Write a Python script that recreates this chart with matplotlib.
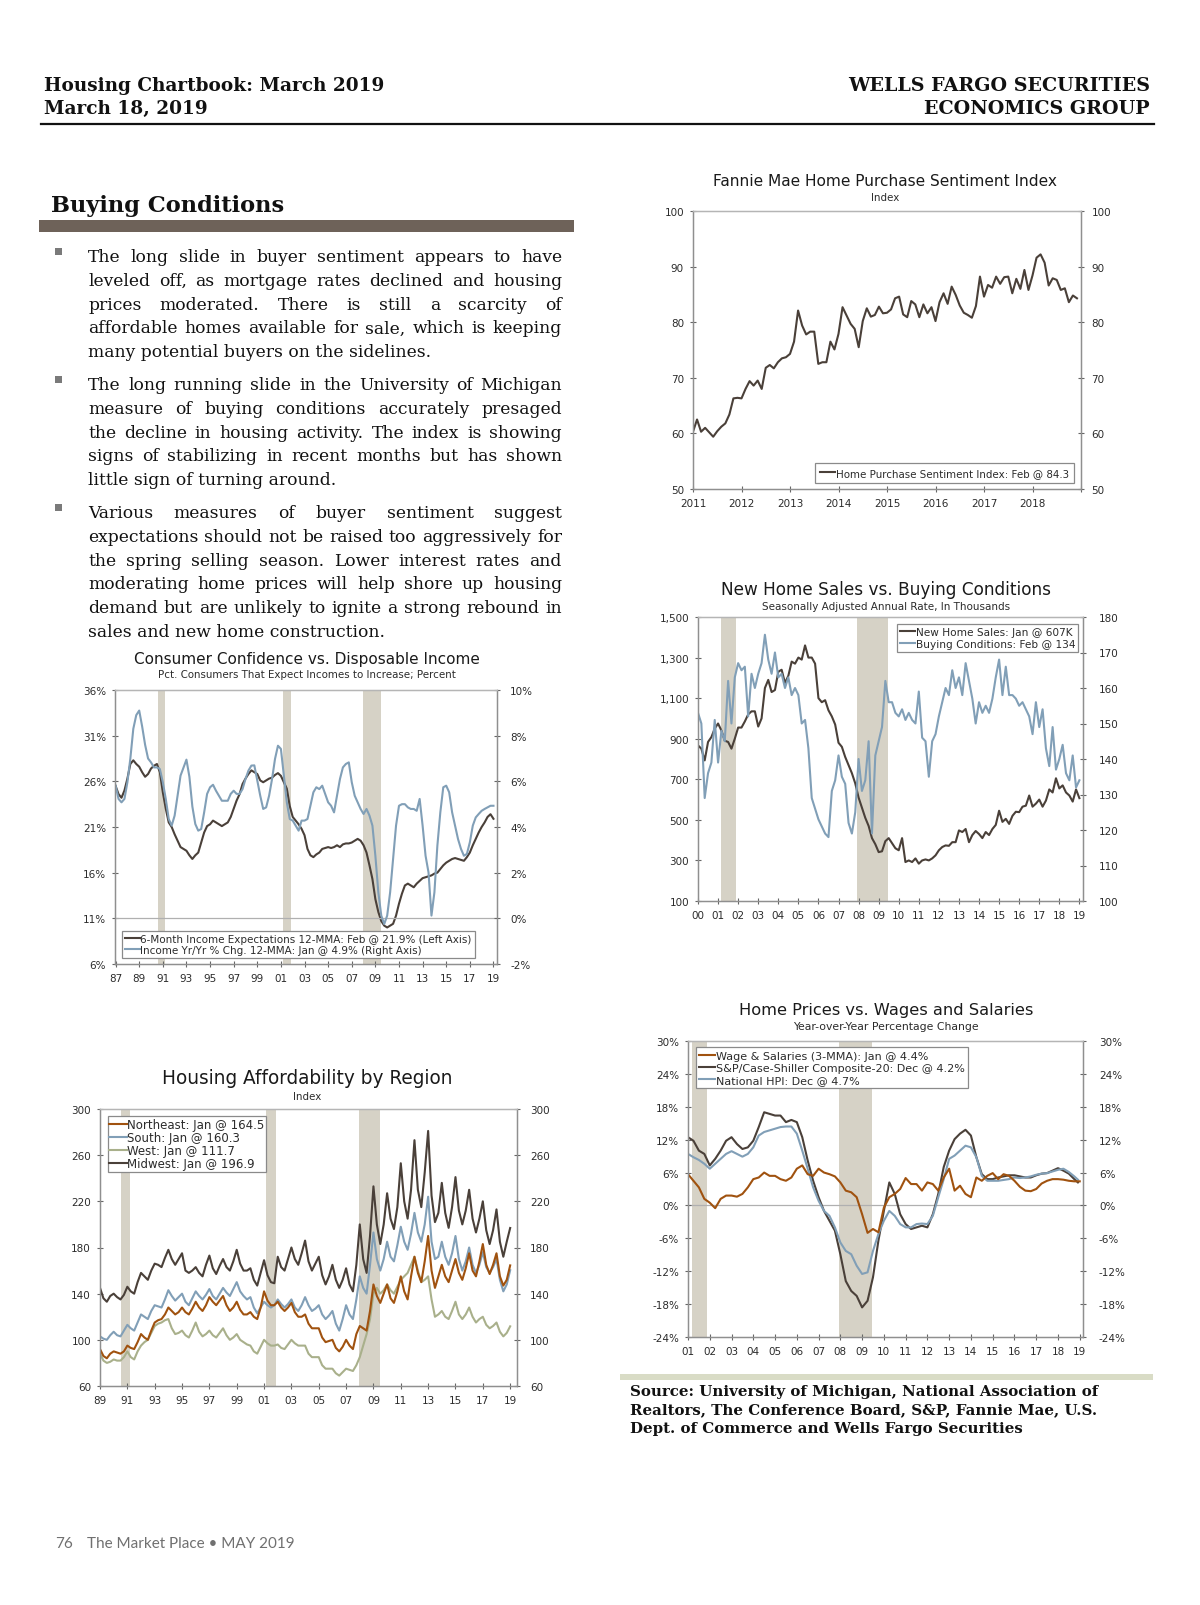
import numpy as np
import matplotlib
matplotlib.use("Agg")
import matplotlib.pyplot as plt
from matplotlib.patches import Rectangle
from matplotlib.lines import Line2D
from matplotlib.ticker import FuncFormatter

# ======================= DATA =======================
recessions = [(1990.55, 1991.17), (2001.17, 2001.87), (2007.92, 2009.45)]

# Fannie Mae Home Purchase Sentiment Index, monthly from 2011
hpsi_start = 2011.0
hpsi = [60.3, 62.5, 60.3, 61.0, 60.2, 59.4, 60.4, 61.2, 61.8, 63.4, 66.3, 66.4,
        66.3, 68.0, 69.4, 68.6, 69.5, 68.0, 71.8, 72.3, 71.7, 72.8, 73.5, 73.7,
        74.3, 76.5, 82.1, 79.4, 77.8, 78.3, 78.3, 72.5, 72.8, 72.8, 76.5, 75.1,
        77.9, 82.7, 81.2, 79.7, 78.8, 75.5, 80.2, 82.5, 81.0, 81.3, 82.8, 81.6,
        81.7, 82.3, 84.3, 84.6, 81.4, 80.9, 83.8, 83.2, 80.9, 83.2, 81.6, 82.7,
        80.2, 83.6, 85.2, 83.3, 86.4, 84.9, 83.0, 81.7, 81.3, 80.8, 82.9, 88.2,
        84.6, 86.7, 86.2, 88.2, 86.9, 88.1, 88.2, 85.2, 87.8, 86.0, 89.4, 85.8,
        88.4, 91.6, 92.2, 90.7, 86.6, 87.9, 87.6, 85.8, 86.1, 83.6, 84.8, 84.3]
hpsi_label = "Home Purchase Sentiment Index: Feb @ 84.3"

# New home sales (thousands, SAAR) & UMich buying conditions, bi-monthly from 2000
nhs_start = 2000.0
new_home_sales = [867, 851, 793, 884, 908, 950, 975, 940, 890, 884,
                  851, 900, 955, 955, 985, 1020, 1035, 1035, 960, 1000,
                  1150, 1190, 1130, 1140, 1230, 1240, 1175, 1210, 1280, 1270,
                  1300, 1290, 1360, 1300, 1300, 1270, 1100, 1080, 1090, 1040,
                  1010, 970, 880, 860, 810, 770, 730, 680, 610, 560,
                  510, 470, 410, 380, 341, 345, 395, 410, 385, 360,
                  350, 410, 292, 300, 292, 310, 284, 300, 305, 300,
                  310, 325, 350, 366, 374, 372, 390, 390, 448, 440,
                  455, 390, 425, 445, 430, 410, 440, 425, 455, 475,
                  545, 490, 505, 480, 520, 540, 538, 565, 570, 620,
                  565, 580, 600, 565, 595, 650, 635, 705, 655, 670,
                  635, 620, 590, 650, 607]
buying_conditions = [153, 150, 129, 136, 139, 151, 139, 148, 145, 162,
                     150, 163, 167, 165, 166, 152, 164, 160, 164, 167,
                     175, 168, 164, 170, 163, 164, 160, 163, 158, 160,
                     158, 150, 151, 143, 129, 126, 123, 121, 119, 118,
                     131, 134, 141, 135, 133, 122, 119, 125, 140, 131,
                     134, 145, 119, 141, 145, 149, 162, 156, 156, 153,
                     152, 154, 151, 153, 151, 150, 159, 146, 145, 135,
                     145, 147, 152, 156, 160, 158, 165, 160, 163, 158,
                     167, 162, 157, 150, 156, 153, 155, 153, 157, 163,
                     168, 158, 166, 158, 158, 157, 155, 156, 154, 152,
                     147, 156, 149, 154, 143, 138, 149, 137, 140, 144,
                     136, 134, 141, 132, 134]
nhs_labels = ["New Home Sales: Jan @ 607K", "Buying Conditions: Feb @ 134"]

# Consumer confidence (income expectations, 12-MMA) & income yr/yr, quarterly from 1987
cc_start = 1987.0
income_expect = [25.5, 24.6, 24.2, 25.0, 26.3, 27.9, 28.3, 27.9, 27.6, 27.0, 26.5, 26.8,
                 27.4, 27.7, 27.9, 27.0, 24.8, 23.0, 21.5, 21.0, 20.2, 19.5, 18.8, 18.6,
                 18.4, 17.9, 17.5, 17.9, 18.2, 19.3, 20.4, 21.1, 21.3, 21.7, 21.5, 21.3,
                 21.1, 21.3, 21.5, 22.1, 23.0, 23.9, 24.6, 25.7, 26.3, 26.8, 27.2, 27.0,
                 26.8, 26.1, 25.9, 26.1, 26.3, 26.4, 26.7, 26.9, 26.6, 25.9, 25.2, 23.3,
                 22.1, 21.7, 21.3, 20.8, 20.1, 18.6, 17.9, 17.7, 18.0, 18.2, 18.6, 18.7,
                 18.8, 18.7, 18.8, 19.0, 18.8, 19.1, 19.2, 19.2, 19.3, 19.5, 19.7, 19.5,
                 19.0, 18.2, 16.8, 15.3, 13.1, 11.7, 10.7, 10.2, 10.0, 10.2, 10.4, 11.3,
                 12.6, 13.7, 14.6, 14.8, 14.6, 14.4, 14.8, 15.1, 15.4, 15.5, 15.6, 15.7,
                 15.9, 16.0, 16.4, 16.8, 17.1, 17.3, 17.5, 17.6, 17.5, 17.4, 17.3, 17.7,
                 18.2, 19.0, 19.7, 20.4, 21.0, 21.5, 22.1, 22.4, 21.9]
income_yoy = [5.81, 5.23, 5.08, 5.23, 5.96, 7.0, 8.3, 8.9, 9.1, 8.4, 7.6, 7.0,
              6.83, 6.61, 6.61, 6.54, 5.96, 5.23, 4.35, 4.06, 4.5, 5.37, 6.25, 6.6,
              6.95, 6.2, 4.9, 4.13, 3.84, 3.91, 4.64, 5.45, 5.74, 5.85, 5.59, 5.37,
              5.15, 5.15, 5.15, 5.45, 5.59, 5.45, 5.45, 5.66, 6.1, 6.47, 6.69, 6.7,
              6.03, 5.37, 4.79, 4.86, 5.37, 6.1, 6.98, 7.56, 7.42, 6.25, 5.08, 4.35,
              4.28, 4.06, 3.84, 4.28, 4.28, 4.35, 4.93, 5.52, 5.74, 5.66, 5.81, 5.45,
              5.08, 4.93, 4.64, 5.37, 6.1, 6.61, 6.76, 6.83, 5.96, 5.37, 5.08, 4.79,
              4.57, 4.79, 4.5, 4.06, 2.74, 1.14, 0.12, -0.25, 0.12, 1.14, 2.6, 4.06,
              4.93, 5.0, 5.0, 4.86, 4.79, 4.79, 4.71, 5.23, 4.06, 2.74, 2.01, 0.12,
              1.14, 3.18, 4.64, 5.74, 5.81, 5.52, 4.64, 4.06, 3.47, 3.04, 2.74, 2.82,
              3.33, 4.06, 4.42, 4.57, 4.71, 4.79, 4.86, 4.93, 4.93]
cc_labels = ["6-Month Income Expectations 12-MMA: Feb @ 21.9% (Left Axis)",
             "Income Yr/Yr % Chg. 12-MMA: Jan @ 4.9% (Right Axis)"]

# Housing affordability by region, quarterly from 1989
aff_start = 1989.0
northeast = [92, 86, 84, 88, 90, 89, 88, 90, 95, 93, 92, 98, 105, 102, 100, 108,
             115, 117, 118, 122, 128, 125, 122, 124, 128, 124, 122, 127, 133, 128, 125, 130,
             137, 133, 130, 134, 138, 130, 125, 128, 133, 126, 122, 122, 124, 120, 118, 128,
             142, 134, 130, 130, 133, 128, 125, 128, 132, 124, 120, 120, 122, 114, 110, 110,
             110, 102, 98, 99, 100, 93, 90, 94, 100, 95, 92, 105, 112, 110, 108, 125,
             148, 138, 132, 140, 148, 136, 132, 142, 155, 142, 135, 155, 172, 158, 150, 168,
             190, 160, 145, 155, 165, 155, 150, 160, 170, 158, 152, 162, 175, 160, 155, 168,
             183, 165, 157, 165, 175, 155, 147, 152, 164.5]
south = [103, 101, 100, 104, 107, 104, 103, 108, 113, 110, 108, 115, 122, 120, 118, 125,
         130, 129, 128, 135, 143, 138, 134, 137, 140, 133, 130, 136, 142, 138, 135, 139,
         144, 138, 135, 140, 145, 141, 138, 144, 150, 142, 138, 135, 137, 128, 123, 128,
         133, 130, 128, 130, 135, 131, 128, 131, 135, 128, 125, 130, 137, 130, 125, 127,
         130, 122, 118, 121, 125, 114, 108, 118, 130, 122, 118, 135, 155, 145, 140, 165,
         193, 170, 160, 170, 185, 172, 168, 182, 198, 185, 178, 192, 210, 193, 185, 200,
         224, 185, 170, 172, 185, 172, 165, 175, 190, 170, 160, 168, 180, 165, 158, 165,
         176, 163, 158, 163, 170, 152, 142, 148, 160.3]
west = [88, 82, 80, 81, 83, 82, 82, 85, 90, 85, 83, 90, 95, 98, 100, 106,
        112, 114, 115, 117, 118, 110, 105, 106, 108, 104, 102, 108, 115, 107, 103, 105,
        108, 104, 102, 106, 110, 104, 100, 102, 105, 100, 98, 96, 95, 90, 88, 94,
        100, 97, 95, 95, 96, 93, 92, 96, 100, 97, 95, 95, 95, 88, 85, 85,
        85, 78, 75, 75, 75, 71, 69, 72, 75, 74, 73, 78, 85, 95, 105, 118,
        140, 145, 140, 143, 148, 143, 140, 146, 152, 155, 158, 165, 172, 160, 150, 152,
        155, 135, 120, 122, 125, 120, 118, 125, 133, 122, 118, 122, 128, 120, 115, 118,
        120, 113, 110, 112, 115, 107, 103, 106, 111.7]
midwest = [145, 136, 133, 138, 140, 137, 135, 139, 146, 142, 140, 150, 158, 155, 152, 160,
           166, 165, 163, 171, 178, 170, 165, 170, 175, 160, 158, 160, 163, 158, 155, 165,
           173, 162, 157, 164, 170, 163, 160, 168, 178, 166, 160, 160, 162, 152, 147, 158,
           169, 156, 150, 149, 172, 163, 160, 170, 180, 170, 165, 175, 186, 168, 160, 166,
           172, 156, 148, 155, 165, 152, 145, 152, 162, 148, 142, 165, 200, 170, 158, 190,
           233, 200, 183, 200, 227, 205, 196, 215, 253, 220, 205, 230, 273, 230, 215, 245,
           281, 225, 202, 210, 236, 210, 197, 215, 241, 212, 200, 212, 230, 205, 193, 205,
           220, 195, 183, 195, 213, 185, 172, 185, 196.9]
aff_labels = ["Northeast: Jan @ 164.5", "South: Jan @ 160.3",
              "West: Jan @ 111.7", "Midwest: Jan @ 196.9"]

# Home prices vs wages, quarterly from 2001 (price series end Dec 2018)
hp_start = 2001.0
wages = [5.7, 4.5, 3.3, 1.2, 0.5, -0.5, 1.2, 1.8, 1.8, 1.6, 2.1, 3.3,
         4.8, 5.1, 6.0, 5.4, 5.4, 4.8, 4.5, 5.1, 6.7, 7.3, 5.7, 5.4,
         6.7, 6.0, 5.7, 5.3, 4.2, 2.7, 2.4, 1.5, -1.6, -5.0, -4.3, -4.9,
         -0.4, 1.5, 2.1, 3.0, 5.0, 3.9, 3.9, 2.7, 4.2, 3.9, 2.7, 5.1,
         6.7, 2.7, 3.6, 2.1, 1.5, 5.1, 4.5, 5.4, 5.9, 4.8, 5.7, 5.4,
         4.5, 3.4, 2.7, 2.6, 3.0, 4.0, 4.5, 4.8, 4.8, 4.7, 4.5, 4.4, 4.4]
case_shiller = [12.45, 11.8, 10.0, 9.4, 7.3, 8.5, 10.0, 11.8, 12.45, 11.2, 10.3, 10.6,
                11.8, 14.3, 17.0, 16.7, 16.4, 16.4, 15.2, 15.6, 15.2, 12.45, 8.2, 4.5,
                1.5, -1.0, -2.8, -4.6, -8.9, -13.8, -15.6, -16.5, -18.6, -17.4, -13.1, -6.4,
                -1.0, 4.2, 2.1, -1.6, -3.4, -4.3, -4.0, -3.7, -4.0, -1.6, 2.1, 7.0,
                10.0, 12.1, 13.1, 13.8, 12.75, 8.8, 5.7, 4.8, 4.8, 5.1, 5.3, 5.5,
                5.5, 5.3, 5.1, 5.1, 5.5, 5.8, 5.9, 6.35, 6.8, 6.35, 5.8, 4.8, 4.2]
national_hpi = [9.4, 8.8, 8.3, 7.6, 6.7, 7.6, 8.5, 9.4, 9.9, 9.4, 8.9, 9.4,
                10.6, 12.75, 13.4, 13.7, 14.0, 14.3, 14.4, 14.4, 13.1, 10.0, 6.7, 3.3,
                0.85, -1.0, -1.9, -4.0, -6.75, -8.3, -8.9, -11.0, -12.5, -12.2, -8.3, -5.2,
                -2.8, -1.0, -1.9, -3.4, -4.0, -4.0, -3.4, -3.3, -3.4, -1.9, 1.5, 4.8,
                8.5, 9.1, 10.0, 10.9, 10.6, 8.8, 5.4, 4.5, 4.5, 4.5, 4.65, 4.8,
                5.1, 5.0, 5.1, 5.3, 5.6, 5.8, 5.9, 6.2, 6.5, 6.7, 6.1, 5.3, 4.7]
hp_labels = ["Wage & Salaries (3-MMA): Jan @ 4.4%",
             "S&P/Case-Shiller Composite-20: Dec @ 4.2%",
             "National HPI: Dec @ 4.7%"]

# ======================= PAGE TEXT =======================
header_left = ["Housing Chartbook: March 2019", "March 18, 2019"]
header_right = ["WELLS FARGO SECURITIES", "ECONOMICS GROUP"]
section_title = "Buying Conditions"
paragraphs = [
    ["The long slide in buyer sentiment appears to have",
     "leveled off, as mortgage rates declined and housing",
     "prices moderated. There is still a scarcity of",
     "affordable homes available for sale, which is keeping",
     "many potential buyers on the sidelines."],
    ["The long running slide in the University of Michigan",
     "measure of buying conditions accurately presaged",
     "the decline in housing activity. The index is showing",
     "signs of stabilizing in recent months but has shown",
     "little sign of turning around."],
    ["Various measures of buyer sentiment suggest",
     "expectations should not be raised too aggressively for",
     "the spring selling season. Lower interest rates and",
     "moderating home prices will help shore up housing",
     "demand but are unlikely to ignite a strong rebound in",
     "sales and new home construction."],
]
source_lines = ["Source: University of Michigan, National Association of",
                "Realtors, The Conference Board, S&P, Fannie Mae, U.S.",
                "Dept. of Commerce and Wells Fargo Securities"]
footer_num = "76"
footer_text = "The Market Place \u2022 MAY 2019"

# ======================= STYLE =======================
DARK = '#4a4039'
BLUE = '#819fb7'
ORANGE = '#a0520f'
GREEN = '#a9b08b'
REC = '#d6d2c6'
SPINE = '#8f8f8f'
TXT = '#2b2b2b'
SANS = 'DejaVu Sans'
SERIF = 'DejaVu Serif'
LW = 1.5

W, H = 1200, 1606
fig = plt.figure(figsize=(W / 100, H / 100), dpi=100)
fig.patch.set_facecolor('white')
renderer = fig.canvas.get_renderer()


def ftext(x, y, s, **kw):
    return fig.text(x / W, 1 - y / H, s, **kw)


def measure(s, size, **kw):
    t = fig.text(0, 0, s, fontsize=size, **kw)
    w = t.get_window_extent(renderer=renderer).width
    t.remove()
    return w


def fit(s, target, **kw):
    return 10.0 * target / measure(s, 10.0, **kw)


def px_axes(l, t, r, b):
    return fig.add_axes([l / W, 1 - b / H, (r - l) / W, (b - t) / H])


TICK_FS = 7.5


def style_axes(ax, rpad=4):
    for name, s in ax.spines.items():
        s.set_color(SPINE if name != 'top' else '#b5b5b5')
        s.set_linewidth(0.9)
    ax.tick_params(axis='both', direction='inout', length=5, width=0.8,
                   color='#666666', labelsize=TICK_FS, labelcolor=TXT, pad=4)
    ax.tick_params(axis='y', which='both', right=True, pad=rpad) if rpad != 4 else None
    ax.set_facecolor('none')
    for lab in ax.get_xticklabels() + ax.get_yticklabels():
        lab.set_family(SANS)


def add_recessions(ax, lo, hi):
    for a, b in recessions:
        if b > lo and a < hi:
            ax.axvspan(max(a, lo), min(b, hi), color=REC, lw=0, zorder=0)


def make_legend(ax, handles, labels, loc, anchor, first_w, spacing=0.1, bpad=0.4):
    fs = fit(labels[0], first_w, family=SANS)
    leg = ax.legend(handles, labels, loc=loc, bbox_to_anchor=anchor,
                    bbox_transform=ax.transAxes, borderaxespad=0.0,
                    frameon=True, fancybox=False, framealpha=1.0,
                    edgecolor='#8a8a8a', handlelength=1.45,
                    handletextpad=0.05, borderpad=bpad, labelspacing=spacing,
                    prop={'family': SANS, 'size': fs})
    leg.get_frame().set_linewidth(0.9)
    for t in leg.get_texts():
        t.set_color(TXT)
    leg.set_zorder(10)
    return leg


def chart_titles(cx, ty, title, sy, sub, title_w, sub_w):
    ftext(cx, ty, title, family=SANS, fontsize=fit(title, title_w, family=SANS),
          ha='center', va='center', color='#1a1a1a')
    ftext(cx, sy, sub, family=SANS, fontsize=fit(sub, sub_w, family=SANS),
          ha='center', va='center', color=TXT)


def handle(c):
    return Line2D([], [], color=c, lw=LW)


pct = FuncFormatter(lambda v, p: f"{v:.0f}%")

# ======================= HEADER =======================
hl_size = fit(header_left[0], 342, family=SERIF, weight='bold')
ftext(44, 91, header_left[0], family=SERIF, weight='bold', fontsize=hl_size, color='#111')
ftext(44, 113.5, header_left[1], family=SERIF, weight='bold', fontsize=hl_size, color='#111')
hr_size = fit(header_right[0], 304, family=SERIF, weight='bold')
ftext(1150, 91, header_right[0], family=SERIF, weight='bold', fontsize=hr_size,
      ha='right', color='#111')
ftext(1150, 113.5, header_right[1], family=SERIF, weight='bold', fontsize=hr_size,
      ha='right', color='#111')
fig.add_artist(Line2D([41 / W, 1154 / W], [1 - 125 / H, 1 - 125 / H],
                      color='#111111', lw=1.6, transform=fig.transFigure))

# Section title and bar
ftext(51, 212, section_title, family=SERIF, weight='bold',
      fontsize=fit(section_title, 234, family=SERIF, weight='bold'), color='#111')
fig.add_artist(Rectangle((39 / W, 1 - 233 / H), (574 - 39) / W, 12 / H,
                         transform=fig.transFigure, color='#6e6259', lw=0))

# Body text, justified
body_size = fit(paragraphs[2][1], 472, family=SERIF)
x0, x1 = 88, 562
para_base = [262, 390, 518]
line_gap = 23.8
for p, base in zip(paragraphs, para_base):
    fig.add_artist(Rectangle((55 / W, 1 - (base - 6) / H), 7 / W, 7 / H,
                             transform=fig.transFigure, color='#7a7a7a', lw=0))
    for i, line in enumerate(p):
        y = base + i * line_gap
        if i == len(p) - 1:
            ftext(x0, y, line, family=SERIF, fontsize=body_size, va='baseline', color='#111')
            continue
        words = line.split()
        widths = [measure(w, body_size, family=SERIF) for w in words]
        gap = (x1 - x0 - sum(widths)) / (len(words) - 1)
        x = x0
        for w, wd in zip(words, widths):
            ftext(x, y, w, family=SERIF, fontsize=body_size, va='baseline', color='#111')
            x += wd + gap

# Source block
fig.add_artist(Rectangle((620 / W, 1 - 1381 / H), (1153 - 620) / W, 6 / H,
                         transform=fig.transFigure, color='#d9dcc6', lw=0))
src_size = fit(source_lines[0], 467, family=SERIF, weight='bold')
for i, s in enumerate(source_lines):
    ftext(630, 1396 + i * 18.4, s, family=SERIF, weight='bold', fontsize=src_size, color='#111')

# Footer
foot_size = fit(footer_text, 208, family='Lato')
ftext(55, 1548, footer_num, family='Lato', fontsize=foot_size, color='#707070')
ftext(87, 1548, footer_text, family='Lato', fontsize=foot_size, color='#707070')

# ======================= CHART 1: Fannie Mae =======================
ax = px_axes(693, 212, 1081, 490)
x = hpsi_start + np.arange(len(hpsi)) / 12.0
ax.plot(x, hpsi, color=DARK, lw=LW)
ax.set_xlim(2011, 2019)
ax.set_ylim(50, 100)
ax.set_xticks(np.arange(2011, 2020))
ax.set_xticklabels([str(y) for y in range(2011, 2019)] + [""])
ax.set_yticks(np.arange(50, 101, 10))
style_axes(ax)
ax2 = ax.twinx()
ax2.set_ylim(50, 100)
ax2.set_yticks(np.arange(50, 101, 10))
style_axes(ax2, rpad=5)
make_legend(ax2, [handle(DARK)], [hpsi_label], 'lower right', (0.982, 0.022), 233, bpad=0.5)
chart_titles(885, 182, "Fannie Mae Home Purchase Sentiment Index", 198, "Index", 342, 28)

# ======================= CHART 2: New Home Sales =======================
ax = px_axes(698, 618, 1083, 902)
x = nhs_start + np.arange(len(new_home_sales)) / 6.0
add_recessions(ax, 2000, 2019.18)
ax.plot(x, new_home_sales, color=DARK, lw=LW, zorder=3)
ax.set_xlim(2000, 2019.18)
ax.set_ylim(100, 1500)
ax.set_yticks(np.arange(100, 1501, 200))
ax.yaxis.set_major_formatter(FuncFormatter(lambda v, p: f"{v:,.0f}"))
ax.set_xticks(np.arange(2000, 2020))
ax.set_xticklabels([f"{y % 100:02d}" for y in range(2000, 2020)])
style_axes(ax)
ax2 = ax.twinx()
x2 = nhs_start + np.arange(len(buying_conditions)) / 6.0
ax2.plot(x2, buying_conditions, color=BLUE, lw=LW, zorder=2)
ax2.set_ylim(100, 180)
ax2.set_yticks(np.arange(100, 181, 10))
style_axes(ax2, rpad=9)
make_legend(ax2, [handle(DARK), handle(BLUE)], nhs_labels, 'upper right', (0.987, 0.975),
            156, spacing=0.22, bpad=0.25)
chart_titles(886, 590, "New Home Sales vs. Buying Conditions", 607,
             "Seasonally Adjusted Annual Rate, In Thousands", 329, 247)

# ======================= CHART 3: Consumer Confidence =======================
ax = px_axes(115, 691, 497, 965)
x = cc_start + np.arange(len(income_expect)) * 0.25
add_recessions(ax, 1986.95, 2019.3)
ax.plot(x, income_expect, color=DARK, lw=LW, zorder=3)
ax.set_xlim(1986.95, 2019.3)
ax.set_ylim(6, 36)
ax.set_yticks(np.arange(6, 37, 5))
ax.yaxis.set_major_formatter(pct)
ax.set_xticks(np.arange(1987, 2020, 2))
ax.set_xticklabels([f"{y % 100:02d}" for y in range(1987, 2020, 2)])
style_axes(ax)
ax2 = ax.twinx()
ax2.axhline(0, color='#b0b0b0', lw=0.9, zorder=1)
x2 = cc_start + np.arange(len(income_yoy)) * 0.25
ax2.plot(x2, income_yoy, color=BLUE, lw=LW, zorder=2)
ax2.set_ylim(-2, 10)
ax2.set_yticks(np.arange(-2, 11, 2))
ax2.yaxis.set_major_formatter(pct)
style_axes(ax2, rpad=7)
make_legend(ax2, [handle(DARK), handle(BLUE)], cc_labels, 'lower left', (0.0175, 0.022),
            330, spacing=0.08, bpad=0.3)
chart_titles(307, 660, "Consumer Confidence vs. Disposable Income", 675,
             "Pct. Consumers That Expect Incomes to Increase; Percent", 345, 297)

# ======================= CHART 4: Housing Affordability =======================
ax = px_axes(100, 1110, 517, 1387)
x = aff_start + np.arange(len(midwest)) * 0.25
add_recessions(ax, 1989, 2019.5)
ax.plot(x, west, color=GREEN, lw=LW, zorder=2)
ax.plot(x, south, color=BLUE, lw=LW, zorder=3)
ax.plot(x, northeast, color=ORANGE, lw=LW, zorder=4)
ax.plot(x, midwest, color=DARK, lw=LW, zorder=5)
ax.set_xlim(1989, 2019.5)
ax.set_ylim(60, 300)
ax.set_yticks(np.arange(60, 301, 40))
ax.set_xticks(np.arange(1989, 2020, 2))
ax.set_xticklabels([f"{y % 100:02d}" for y in range(1989, 2020, 2)])
style_axes(ax)
ax2 = ax.twinx()
ax2.set_ylim(60, 300)
ax2.set_yticks(np.arange(60, 301, 40))
style_axes(ax2, rpad=7)
make_legend(ax2, [handle(ORANGE), handle(BLUE), handle(GREEN), handle(DARK)],
            aff_labels, 'upper left', (0.0185, 0.974), 137, spacing=0.0, bpad=0.15)
chart_titles(307, 1079, "Housing Affordability by Region", 1097, "Index", 292, 28)

# ======================= CHART 5: Home Prices vs Wages =======================
ax = px_axes(688, 1042, 1083, 1338)
add_recessions(ax, 2001, 2019.15)
ax.axhline(0, color='#b0b0b0', lw=0.9, zorder=1)
xw = hp_start + np.arange(len(wages)) * 0.25
xp = hp_start + np.append(np.arange(len(case_shiller) - 1) * 0.25, 215 / 12.0)
ax.plot(xw, wages, color=ORANGE, lw=LW, zorder=4)
ax.plot(xp, national_hpi, color=BLUE, lw=LW, zorder=3)
ax.plot(xp, case_shiller, color=DARK, lw=LW, zorder=2)
ax.set_xlim(2001, 2019.15)
ax.set_ylim(-24, 30)
ax.set_yticks(np.arange(-24, 31, 6))
ax.yaxis.set_major_formatter(pct)
ax.set_xticks(np.arange(2001, 2020))
ax.set_xticklabels([f"{y % 100:02d}" for y in range(2001, 2020)])
style_axes(ax)
ax2 = ax.twinx()
ax2.set_ylim(-24, 30)
ax2.set_yticks(np.arange(-24, 31, 6))
ax2.yaxis.set_major_formatter(pct)
style_axes(ax2, rpad=9)
make_legend(ax2, [handle(ORANGE), handle(DARK), handle(BLUE)], hp_labels,
            'upper left', (0.02, 0.979), 212, spacing=0.2, bpad=0.3)
chart_titles(886, 1011, "Home Prices vs. Wages and Salaries", 1027,
             "Year-over-Year Percentage Change", 294, 186)

fig.savefig("out.png", dpi=100, facecolor='white')
